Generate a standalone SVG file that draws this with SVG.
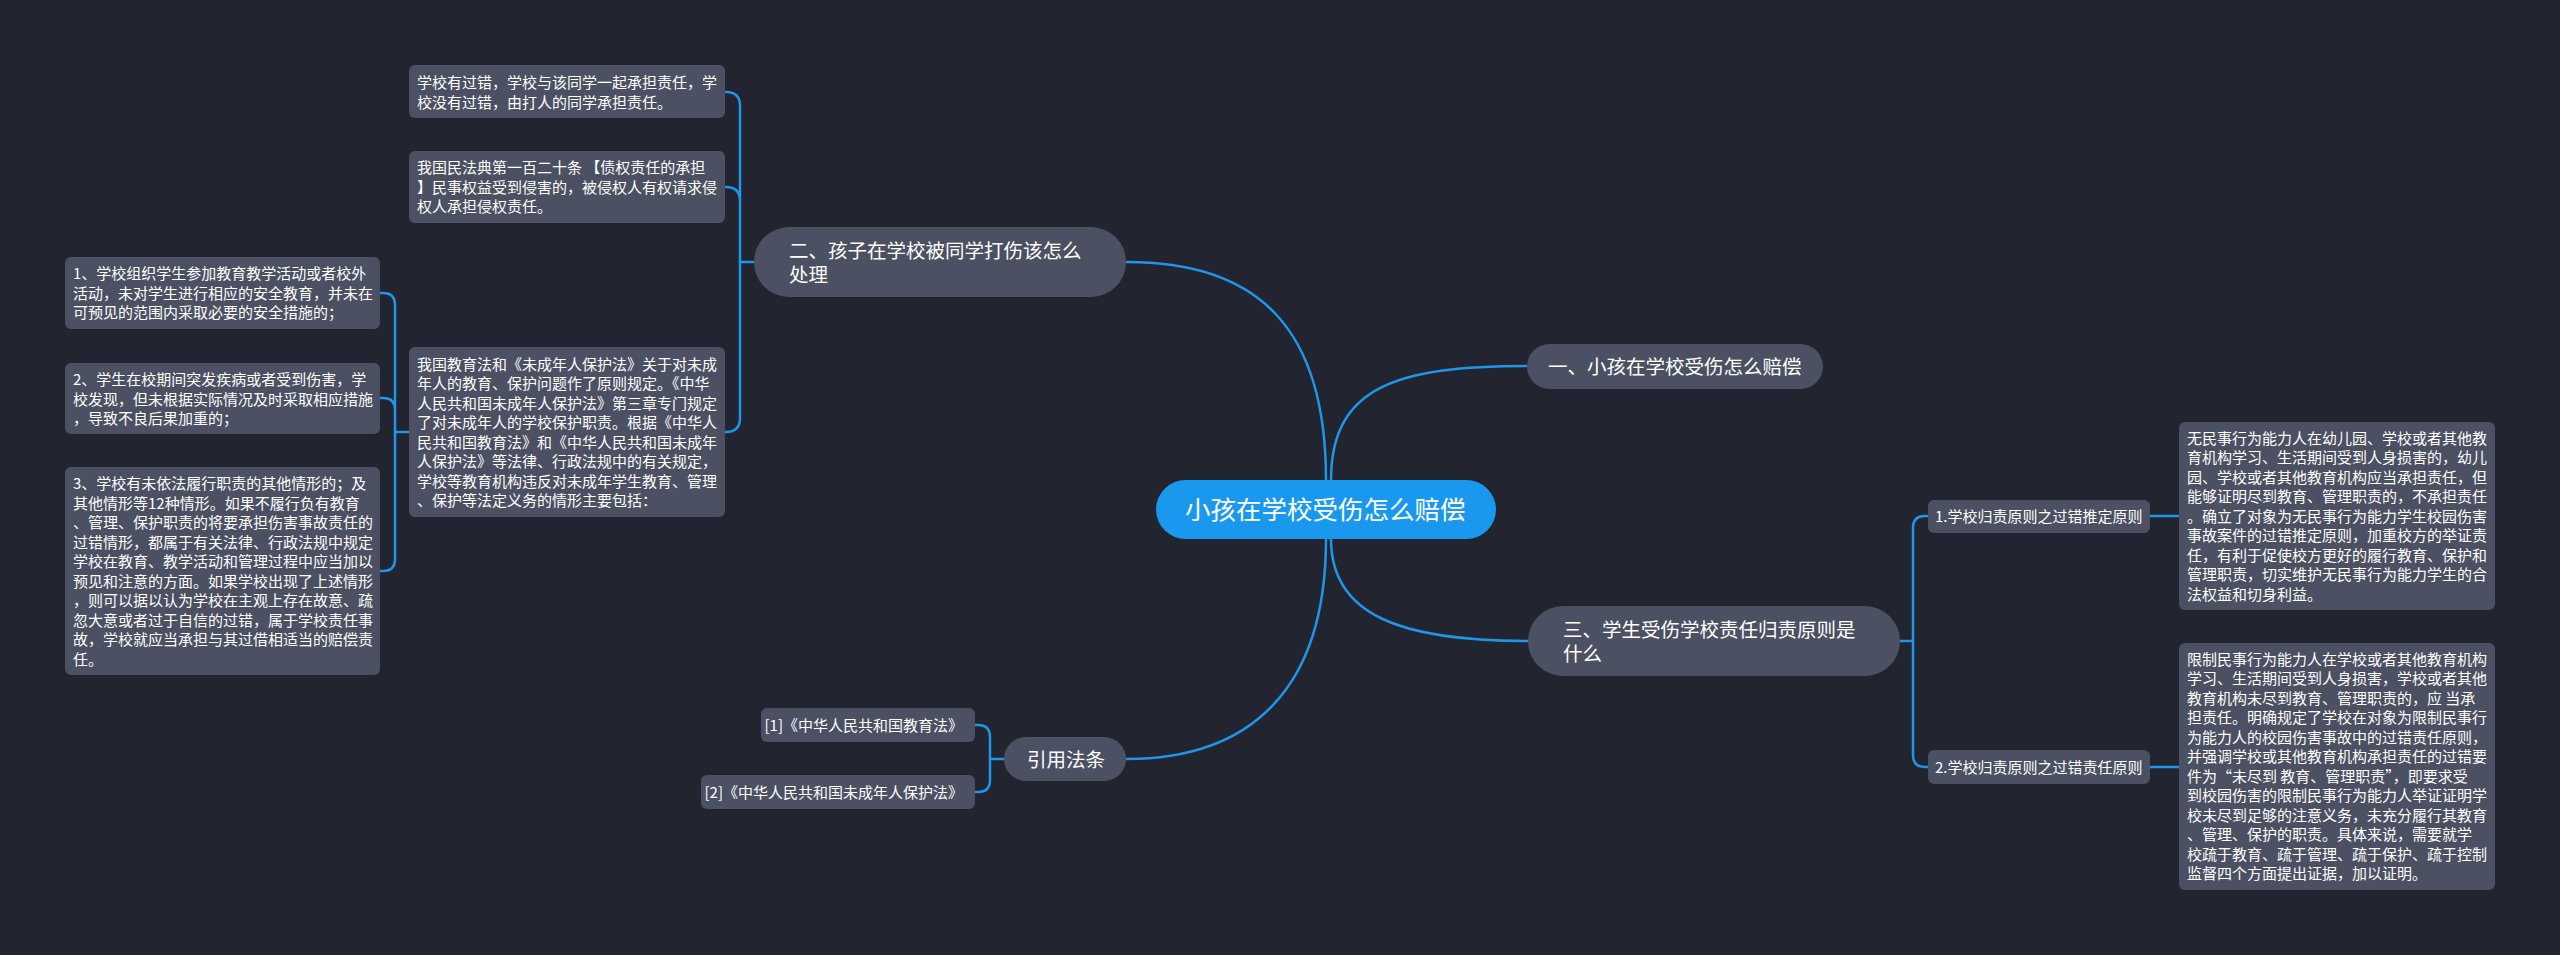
<svg xmlns="http://www.w3.org/2000/svg" width="2560" height="955" viewBox="0 0 2560 955">
<style>
text{font-family:"Noto Sans CJK SC","Noto Sans",sans-serif;fill:#ffffff}
.t15{font-size:15px}
.t20{font-size:19.5px}
.t26{font-size:25.5px}
.leaf{fill:#4b5162}
.mid{fill:#4b5162}
.root{fill:#1a98ee}
.conn{fill:none;stroke:#1e96ea;stroke-width:2.5;stroke-linecap:round}
</style>
<rect x="0" y="0" width="2560" height="955" fill="#22252f"/>
<g id="connectors">
<path class="conn" d="M1326 480 C1326 330 1260 262 1127 262"/>
<path class="conn" d="M1331 480 C1331 385 1400 366 1527 366"/>
<path class="conn" d="M1331 539 C1331 615 1400 641 1528 641"/>
<path class="conn" d="M1326 539 C1326 690 1250 759 1126 759"/>
<path class="conn" d="M754 262 H740 M740 262 V106 Q740 92 726 92 H725 M740 262 V201 Q740 187 726 187 H725 M740 262 V418 Q740 432 726 432 H725"/>
<path class="conn" d="M409 432 H395 M395 432 V305 Q395 293 383 293 H380 M395 432 V410 Q395 398 383 398 H380 M395 432 V559 Q395 571 383 571 H380"/>
<path class="conn" d="M1900 641 H1913 M1913 641 V528 Q1913 516 1925 516 H1928 M1913 641 V755 Q1913 767 1925 767 H1928"/>
<path class="conn" d="M1004 759 H990 M990 759 V737 Q990 725 978 725 H975 M990 759 V780 Q990 792 978 792 H975"/>
<path class="conn" d="M2150 516 H2179 M2150 767 H2179"/>
</g>
<g id="root">
<rect class="root" x="1156" y="480" width="340" height="59" rx="29.5"/>
<text class="t26" x="1185" y="519">小孩在学校受伤怎么赔偿</text>
</g>
<g id="n1">
<rect class="mid" x="1527" y="344" width="296" height="45" rx="22.5"/>
<text class="t20" x="1548" y="374">一、小孩在学校受伤怎么赔偿</text>
</g>
<g id="n2">
<rect class="mid" x="754" y="227" width="372" height="70" rx="35"/>
<text class="t20" x="789" y="257.5">二、孩子在学校被同学打伤该怎么</text>
<text class="t20" x="789" y="281.5">处理</text>
</g>
<g id="n3">
<rect class="mid" x="1528" y="606" width="372" height="70" rx="35"/>
<text class="t20" x="1563" y="636.5">三、学生受伤学校责任归责原则是</text>
<text class="t20" x="1563" y="660.5">什么</text>
</g>
<g id="n4">
<rect class="mid" x="1004" y="737" width="122" height="44" rx="22"/>
<text class="t20" x="1027" y="766.5">引用法条</text>
</g>
<g id="leafA">
<rect class="leaf" x="409" y="65" width="316" height="53" rx="6"/>
<text class="t15"><tspan x="417" y="88">学校有过错，学校与该同学一起承担责任，学</tspan><tspan x="417" y="107.5">校没有过错，由打人的同学承担责任。</tspan></text>
</g>
<g id="leafB">
<rect class="leaf" x="409" y="151" width="316" height="72" rx="6"/>
<text class="t15"><tspan x="417" y="173.2">我国民法典第一百二十条 【债权责任的承担</tspan><tspan x="417" y="192.7">】民事权益受到侵害的，被侵权人有权请求侵</tspan><tspan x="417" y="212.2">权人承担侵权责任。</tspan></text>
</g>
<g id="leafC">
<rect class="leaf" x="409" y="347" width="316" height="170" rx="6"/>
<text class="t15"><tspan x="417" y="369.5">我国教育法和《未成年人保护法》关于对未成</tspan><tspan x="417" y="389">年人的教育、保护问题作了原则规定。《中华</tspan><tspan x="417" y="408.5">人民共和国未成年人保护法》第三章专门规定</tspan><tspan x="417" y="428">了对未成年人的学校保护职责。根据《中华人</tspan><tspan x="417" y="447.5">民共和国教育法》和《中华人民共和国未成年</tspan><tspan x="417" y="467">人保护法》等法律、行政法规中的有关规定，</tspan><tspan x="417" y="486.5">学校等教育机构违反对未成年学生教育、管理</tspan><tspan x="417" y="506">、保护等法定义务的情形主要包括：</tspan></text>
</g>
<g id="leafC1">
<rect class="leaf" x="65" y="257" width="315" height="72" rx="6"/>
<text class="t15"><tspan x="73" y="279.2">1、学校组织学生参加教育教学活动或者校外</tspan><tspan x="73" y="298.7">活动，未对学生进行相应的安全教育，并未在</tspan><tspan x="73" y="318.2">可预见的范围内采取必要的安全措施的；</tspan></text>
</g>
<g id="leafC2">
<rect class="leaf" x="65" y="363" width="315" height="71" rx="6"/>
<text class="t15"><tspan x="73" y="385.2">2、学生在校期间突发疾病或者受到伤害，学</tspan><tspan x="73" y="404.7">校发现，但未根据实际情况及时采取相应措施</tspan><tspan x="73" y="424.2">，导致不良后果加重的；</tspan></text>
</g>
<g id="leafC3">
<rect class="leaf" x="65" y="467" width="315" height="208" rx="6"/>
<text class="t15"><tspan x="73" y="489">3、学校有未依法履行职责的其他情形的；及</tspan><tspan x="73" y="508.5">其他情形等12种情形。如果不履行负有教育</tspan><tspan x="73" y="528">、管理、保护职责的将要承担伤害事故责任的</tspan><tspan x="73" y="547.5">过错情形，都属于有关法律、行政法规中规定</tspan><tspan x="73" y="567">学校在教育、教学活动和管理过程中应当加以</tspan><tspan x="73" y="586.5">预见和注意的方面。如果学校出现了上述情形</tspan><tspan x="73" y="606">，则可以据以认为学校在主观上存在故意、疏</tspan><tspan x="73" y="625.5">忽大意或者过于自信的过错，属于学校责任事</tspan><tspan x="73" y="645">故，学校就应当承担与其过借相适当的赔偿责</tspan><tspan x="73" y="664.5">任。</tspan></text>
</g>
<g id="ref1">
<rect class="leaf" x="761" y="708" width="214" height="34" rx="6"/>
<text class="t15" x="963" y="730.7" text-anchor="end">[1]《中华人民共和国教育法》</text>
</g>
<g id="ref2">
<rect class="leaf" x="701" y="775" width="274" height="34" rx="6"/>
<text class="t15" x="963" y="797.7" text-anchor="end">[2]《中华人民共和国未成年人保护法》</text>
</g>
<g id="p1">
<rect class="leaf" x="1928" y="500" width="222" height="33" rx="6"/>
<text class="t15" x="1935" y="522">1.学校归责原则之过错推定原则</text>
</g>
<g id="p2">
<rect class="leaf" x="1928" y="750" width="222" height="34" rx="6"/>
<text class="t15" x="1935" y="772.7">2.学校归责原则之过错责任原则</text>
</g>
<g id="p1text">
<rect class="leaf" x="2179" y="422" width="316" height="188" rx="6"/>
<text class="t15"><tspan x="2187" y="443.7">无民事行为能力人在幼儿园、学校或者其他教</tspan><tspan x="2187" y="463.2">育机构学习、生活期间受到人身损害的，幼儿</tspan><tspan x="2187" y="482.7">园、学校或者其他教育机构应当承担责任，但</tspan><tspan x="2187" y="502.2">能够证明尽到教育、管理职责的，不承担责任</tspan><tspan x="2187" y="521.7">。确立了对象为无民事行为能力学生校园伤害</tspan><tspan x="2187" y="541.2">事故案件的过错推定原则，加重校方的举证责</tspan><tspan x="2187" y="560.7">任，有利于促使校方更好的履行教育、保护和</tspan><tspan x="2187" y="580.2">管理职责，切实维护无民事行为能力学生的合</tspan><tspan x="2187" y="599.7">法权益和切身利益。</tspan></text>
</g>
<g id="p2text">
<rect class="leaf" x="2179" y="643" width="316" height="247" rx="6"/>
<text class="t15"><tspan x="2187" y="664.9">限制民事行为能力人在学校或者其他教育机构</tspan><tspan x="2187" y="684.4">学习、生活期间受到人身损害，学校或者其他</tspan><tspan x="2187" y="703.9">教育机构未尽到教育、管理职责的，应 当承</tspan><tspan x="2187" y="723.4">担责任。明确规定了学校在对象为限制民事行</tspan><tspan x="2187" y="742.9">为能力人的校园伤害事故中的过错责任原则，</tspan><tspan x="2187" y="762.4">并强调学校或其他教育机构承担责任的过错要</tspan><tspan x="2187" y="781.9">件为“未尽到 教育、管理职责”，即要求受</tspan><tspan x="2187" y="801.4">到校园伤害的限制民事行为能力人举证证明学</tspan><tspan x="2187" y="820.9">校未尽到足够的注意义务，未充分履行其教育</tspan><tspan x="2187" y="840.4">、管理、保护的职责。具体来说，需要就学</tspan><tspan x="2187" y="859.9">校疏于教育、疏于管理、疏于保护、疏于控制</tspan><tspan x="2187" y="879.4">监督四个方面提出证据，加以证明。</tspan></text>
</g>
</svg>
